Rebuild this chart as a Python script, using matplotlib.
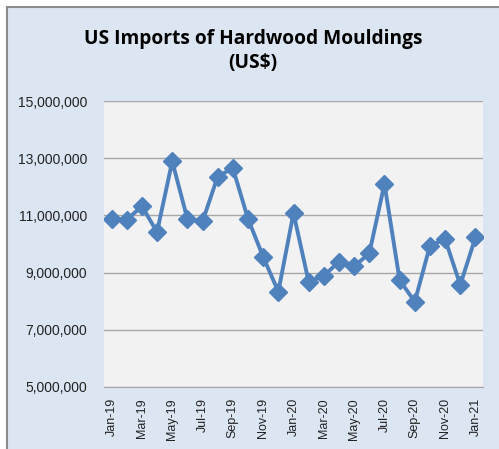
import matplotlib.pyplot as plt
import matplotlib.ticker as mticker
from matplotlib.patches import Rectangle

months = ['Jan-19', 'Feb-19', 'Mar-19', 'Apr-19', 'May-19', 'Jun-19', 'Jul-19',
          'Aug-19', 'Sep-19', 'Oct-19', 'Nov-19', 'Dec-19', 'Jan-20', 'Feb-20',
          'Mar-20', 'Apr-20', 'May-20', 'Jun-20', 'Jul-20', 'Aug-20', 'Sep-20',
          'Oct-20', 'Nov-20', 'Dec-20', 'Jan-21']
imports = [10.89, 10.85, 11.32, 10.42, 12.89, 10.88, 10.79, 12.36, 12.65,
           10.88, 9.55, 8.33, 11.08, 8.68, 8.89, 9.38, 9.22, 9.67, 12.10,
           8.74, 7.98, 9.94, 10.17, 8.57, 10.23]
imports = [v * 1e6 for v in imports]
yticks = [5e6, 7e6, 9e6, 11e6, 13e6, 15e6]

fig = plt.figure(figsize=(4.99, 4.49), dpi=100)
fig.patch.set_facecolor('white')

# chart area background with border
fig.patches.append(Rectangle((7 / 499, -0.1), 1.2, 1 - 7 / 449 + 0.1,
                             transform=fig.transFigure, facecolor='#DCE6F2',
                             edgecolor='#8C8C8C', linewidth=1.5, zorder=-5))

ax = fig.add_axes([104 / 499, 1 - 387 / 449, 379 / 499, 286 / 449])
ax.set_facecolor('#F2F2F2')

x = list(range(len(months)))
ax.plot(x, imports, color='#4F81BD', linewidth=2.8, marker='D',
        markersize=9, zorder=3)

ax.set_xlim(-0.5, len(months) - 0.5)
ax.set_ylim(5e6, 15e6)
ax.set_yticks(yticks)
ax.yaxis.set_major_formatter(mticker.FuncFormatter(lambda v, p: f'{v:,.0f}'))
ax.grid(axis='y', color='#A6A6A6', linewidth=1)
ax.set_axisbelow(True)

ax.set_xticks(x[::2])
ax.set_xticklabels(months[::2], rotation=90, fontsize=9, family='Liberation Sans')
for lab in ax.get_yticklabels():
    lab.set_family('Liberation Sans')
    lab.set_fontsize(10)
ax.tick_params(axis='both', length=0, colors='#222222')
ax.tick_params(axis='y', pad=12)
ax.tick_params(axis='x', pad=8)

for s in ['left', 'right', 'top']:
    ax.spines[s].set_visible(False)
ax.spines['bottom'].set_color('#A6A6A6')

fig.text(0.5 + 7 / 998, 1 - 51 / 449, 'US Imports of Hardwood Mouldings\n(US$)',
         ha='center', va='center', fontsize=13.8, fontweight='bold',
         family='Open Sans', linespacing=1.25)

fig.savefig('out.png', dpi=100)
